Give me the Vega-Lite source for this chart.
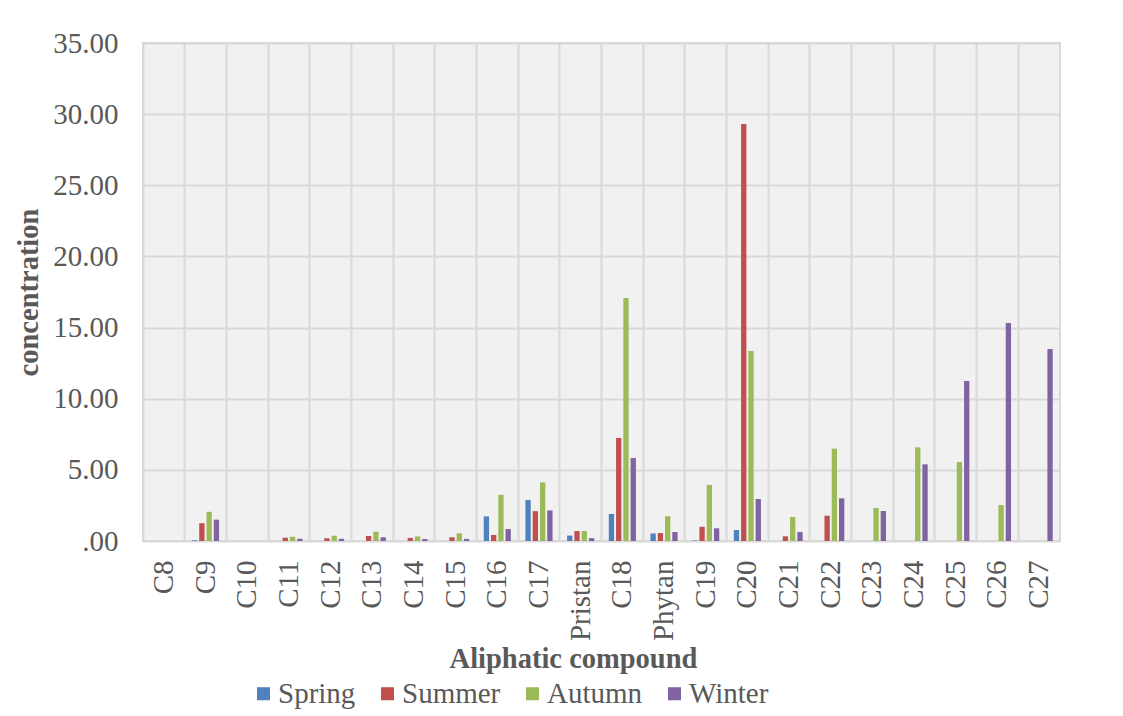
{
  "$schema": "https://vega.github.io/schema/vega-lite/v6.json",
  "width": 917,
  "height": 498,
  "autosize": {"type": "none"},
  "padding": {"left": 143, "top": 43, "right": 63, "bottom": 175},
  "background": "white",
  "config": {
    "font": "Liberation Serif",
    "view": {"stroke": "#d9d9d9", "strokeWidth": 2, "fill": "#f1f1f1"},
    "axis": {
      "labelFont": "Liberation Serif",
      "labelFontSize": 29,
      "labelColor": "#595959",
      "titleFont": "Liberation Serif",
      "titleFontSize": 28.5,
      "titleFontWeight": "bold",
      "titleColor": "#595959",
      "gridColor": "#d9d9d9",
      "gridWidth": 2,
      "ticks": false,
      "domain": false
    }
  },
  "data": {
    "values": [
      {"compound": "C9", "season": "Spring", "value": 0.05},
      {"compound": "C9", "season": "Summer", "value": 1.25},
      {"compound": "C9", "season": "Autumn", "value": 2.05},
      {"compound": "C9", "season": "Winter", "value": 1.5},
      {"compound": "C11", "season": "Summer", "value": 0.23},
      {"compound": "C11", "season": "Autumn", "value": 0.3},
      {"compound": "C11", "season": "Winter", "value": 0.16},
      {"compound": "C12", "season": "Summer", "value": 0.2},
      {"compound": "C12", "season": "Autumn", "value": 0.37},
      {"compound": "C12", "season": "Winter", "value": 0.15},
      {"compound": "C13", "season": "Summer", "value": 0.35},
      {"compound": "C13", "season": "Autumn", "value": 0.65},
      {"compound": "C13", "season": "Winter", "value": 0.26},
      {"compound": "C14", "season": "Summer", "value": 0.22},
      {"compound": "C14", "season": "Autumn", "value": 0.32},
      {"compound": "C14", "season": "Winter", "value": 0.14},
      {"compound": "C15", "season": "Summer", "value": 0.26},
      {"compound": "C15", "season": "Autumn", "value": 0.54},
      {"compound": "C15", "season": "Winter", "value": 0.15},
      {"compound": "C16", "season": "Spring", "value": 1.73},
      {"compound": "C16", "season": "Summer", "value": 0.42},
      {"compound": "C16", "season": "Autumn", "value": 3.25},
      {"compound": "C16", "season": "Winter", "value": 0.84},
      {"compound": "C17", "season": "Spring", "value": 2.88},
      {"compound": "C17", "season": "Summer", "value": 2.1},
      {"compound": "C17", "season": "Autumn", "value": 4.12},
      {"compound": "C17", "season": "Winter", "value": 2.15},
      {"compound": "Pristan", "season": "Spring", "value": 0.38},
      {"compound": "Pristan", "season": "Summer", "value": 0.7},
      {"compound": "Pristan", "season": "Autumn", "value": 0.7},
      {"compound": "Pristan", "season": "Winter", "value": 0.2},
      {"compound": "C18", "season": "Spring", "value": 1.9},
      {"compound": "C18", "season": "Summer", "value": 7.24},
      {"compound": "C18", "season": "Autumn", "value": 17.08},
      {"compound": "C18", "season": "Winter", "value": 5.83},
      {"compound": "Phytan", "season": "Spring", "value": 0.52},
      {"compound": "Phytan", "season": "Summer", "value": 0.56},
      {"compound": "Phytan", "season": "Autumn", "value": 1.74},
      {"compound": "Phytan", "season": "Winter", "value": 0.63},
      {"compound": "C19", "season": "Spring", "value": 0.03},
      {"compound": "C19", "season": "Summer", "value": 1.0},
      {"compound": "C19", "season": "Autumn", "value": 3.94},
      {"compound": "C19", "season": "Winter", "value": 0.89},
      {"compound": "C20", "season": "Spring", "value": 0.77},
      {"compound": "C20", "season": "Summer", "value": 29.3},
      {"compound": "C20", "season": "Autumn", "value": 13.35},
      {"compound": "C20", "season": "Winter", "value": 2.95},
      {"compound": "C21", "season": "Summer", "value": 0.33},
      {"compound": "C21", "season": "Autumn", "value": 1.69},
      {"compound": "C21", "season": "Winter", "value": 0.63},
      {"compound": "C22", "season": "Summer", "value": 1.78},
      {"compound": "C22", "season": "Autumn", "value": 6.49},
      {"compound": "C22", "season": "Winter", "value": 3.0},
      {"compound": "C23", "season": "Autumn", "value": 2.32},
      {"compound": "C23", "season": "Winter", "value": 2.11},
      {"compound": "C24", "season": "Autumn", "value": 6.58},
      {"compound": "C24", "season": "Winter", "value": 5.39},
      {"compound": "C25", "season": "Autumn", "value": 5.55},
      {"compound": "C25", "season": "Winter", "value": 11.24},
      {"compound": "C26", "season": "Autumn", "value": 2.53},
      {"compound": "C26", "season": "Winter", "value": 15.32},
      {"compound": "C27", "season": "Winter", "value": 13.49}
    ]
  },
  "mark": {"type": "bar"},
  "encoding": {
    "x": {
      "field": "compound",
      "type": "nominal",
      "scale": {
        "domain": ["C8", "C9", "C10", "C11", "C12", "C13", "C14", "C15", "C16", "C17", "Pristan", "C18", "Phytan", "C19", "C20", "C21", "C22", "C23", "C24", "C25", "C26", "C27"],
        "paddingInner": 0,
        "paddingOuter": 0
      },
      "axis": {
        "title": "Aliphatic compound",
        "labelAngle": -90,
        "labelPadding": 19,
        "grid": true,
        "bandPosition": 0,
        "titlePadding": 4,
        "titleX": 430
      }
    },
    "xOffset": {
      "field": "season",
      "type": "nominal",
      "scale": {
        "domain": ["Spring", "Summer", "Autumn", "Winter"],
        "paddingInner": 0.27,
        "paddingOuter": 1
      }
    },
    "y": {
      "field": "value",
      "type": "quantitative",
      "scale": {"domain": [0, 35]},
      "axis": {
        "title": "concentration",
        "values": [0, 5, 10, 15, 20, 25, 30, 35],
        "labelExpr": "datum.value == 0 ? '.00' : format(datum.value, '.2f')",
        "labelPadding": 25,
        "titlePadding": 9,
        "grid": true
      }
    },
    "color": {
      "field": "season",
      "type": "nominal",
      "scale": {
        "domain": ["Spring", "Summer", "Autumn", "Winter"],
        "range": ["#4F81BD", "#C0504D", "#9BBB59", "#8064A2"]
      },
      "legend": {
        "title": null,
        "orient": "none",
        "direction": "horizontal",
        "legendX": 106,
        "legendY": 636,
        "symbolType": "square",
        "symbolSize": 170,
        "symbolStrokeWidth": 0,
        "symbolOpacity": 1,
        "labelFont": "Liberation Serif",
        "labelFontSize": 29,
        "labelColor": "#595959",
        "labelOffset": 0,
        "columnPadding": 17,
        "padding": 0
      }
    }
  }
}
